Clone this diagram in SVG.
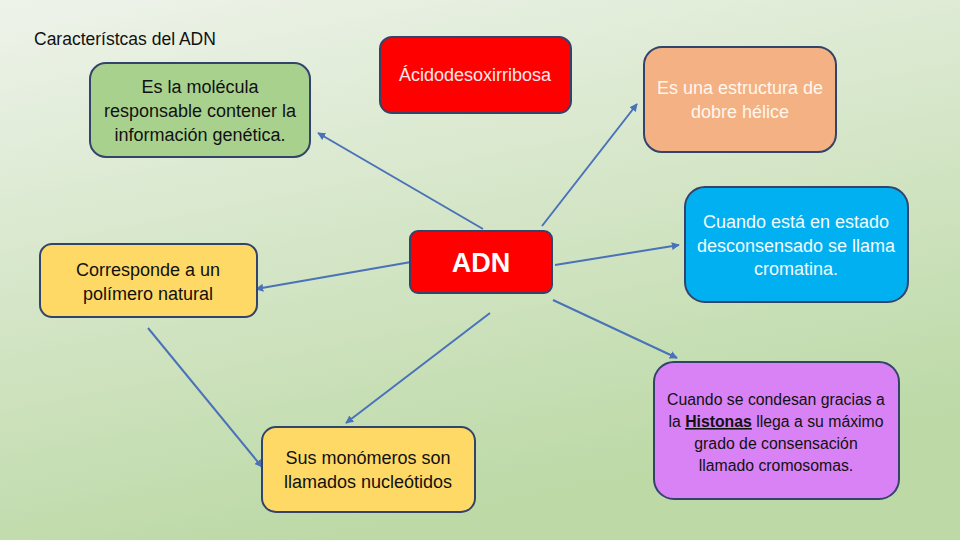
<svg xmlns="http://www.w3.org/2000/svg" width="960" height="540" viewBox="0 0 960 540">
<defs>
<linearGradient id="bg" x1="0" y1="0" x2="0.35" y2="1">
<stop offset="0" stop-color="#eef3ea"/>
<stop offset="0.5" stop-color="#d5e6c8"/>
<stop offset="1" stop-color="#bcd9a6"/>
</linearGradient>
<marker id="arr" viewBox="0 0 10 10" refX="9" refY="5" markerWidth="4" markerHeight="4" orient="auto-start-reverse">
<path d="M0,0 L10,5 L0,10 z" fill="#4a72b8"/>
</marker>
<style>
.box{stroke:#33446b;stroke-width:2}
.t{font-family:"Liberation Sans",Arial,sans-serif;font-size:18px;text-anchor:middle}
.s{font-size:15.8px}
.c{stroke:#4a72b8;stroke-width:2;fill:none;marker-end:url(#arr)}
</style>
</defs>
<rect width="960" height="540" fill="url(#bg)"/>
<text x="34" y="45" font-family="Liberation Sans, Arial, sans-serif" font-size="17.5" fill="#111">Característcas del ADN</text>
<g id="connectors">
<line class="c" x1="483" y1="229" x2="318" y2="133"/>
<line class="c" x1="542" y1="226" x2="637" y2="104"/>
<line class="c" x1="411" y1="262" x2="256" y2="289"/>
<line class="c" x1="555" y1="265" x2="679" y2="245"/>
<line class="c" x1="553" y1="300" x2="677" y2="358"/>
<line class="c" x1="490" y1="313" x2="346" y2="423"/>
<line class="c" x1="148" y1="328" x2="262" y2="467"/>
</g>
<g id="n-green">
<rect class="box" x="90" y="63" width="220" height="94" rx="16" fill="#a9d18e"/>
<text class="t" fill="#111"><tspan x="200" y="93">Es la molécula</tspan><tspan x="200" y="117">responsable contener la</tspan><tspan x="200" y="141">información genética.</tspan></text>
</g>
<g id="n-acido">
<rect class="box" x="380" y="37" width="191" height="76" rx="12" fill="#ff0000"/>
<text class="t" x="475" y="81" fill="#fde8e8">Ácidodesoxirribosa</text>
</g>
<g id="n-helice">
<rect class="box" x="644" y="47" width="192" height="105" rx="18" fill="#f4b183"/>
<text class="t" fill="#fff7ee"><tspan x="740" y="94">Es una estructura de</tspan><tspan x="740" y="118">dobre hélice</tspan></text>
</g>
<g id="n-adn">
<rect class="box" x="410" y="231" width="142" height="62" rx="8" fill="#ff0000"/>
<text x="481" y="272" font-family="Liberation Sans, Arial, sans-serif" font-size="27" font-weight="bold" text-anchor="middle" fill="#fff">ADN</text>
</g>
<g id="n-polimero">
<rect class="box" x="40" y="244" width="217" height="73" rx="12" fill="#ffd966"/>
<text class="t" fill="#111"><tspan x="148" y="276">Corresponde a un</tspan><tspan x="148" y="300">polímero natural</tspan></text>
</g>
<g id="n-cromatina">
<rect class="box" x="685" y="187" width="223" height="115" rx="20" fill="#00b0f0"/>
<text class="t" fill="#f2fbff"><tspan x="796" y="228">Cuando está en estado</tspan><tspan x="796" y="252">desconsensado se llama</tspan><tspan x="796" y="275">cromatina.</tspan></text>
</g>
<g id="n-cromosomas">
<rect class="box" x="654" y="362" width="245" height="137" rx="20" fill="#d982f5"/>
<text class="t s" fill="#111"><tspan x="776" y="405">Cuando se condesan gracias a</tspan><tspan x="776" y="427">la <tspan font-weight="bold" text-decoration="underline">Histonas</tspan> llega a su máximo</tspan><tspan x="776" y="449">grado de consensación</tspan><tspan x="776" y="471">llamado cromosomas.</tspan></text>
</g>
<g id="n-nucleotidos">
<rect class="box" x="262" y="427" width="213" height="85" rx="14" fill="#ffd966"/>
<text class="t" fill="#111"><tspan x="368" y="464">Sus monómeros son</tspan><tspan x="368" y="488">llamados nucleótidos</tspan></text>
</g>
</svg>
